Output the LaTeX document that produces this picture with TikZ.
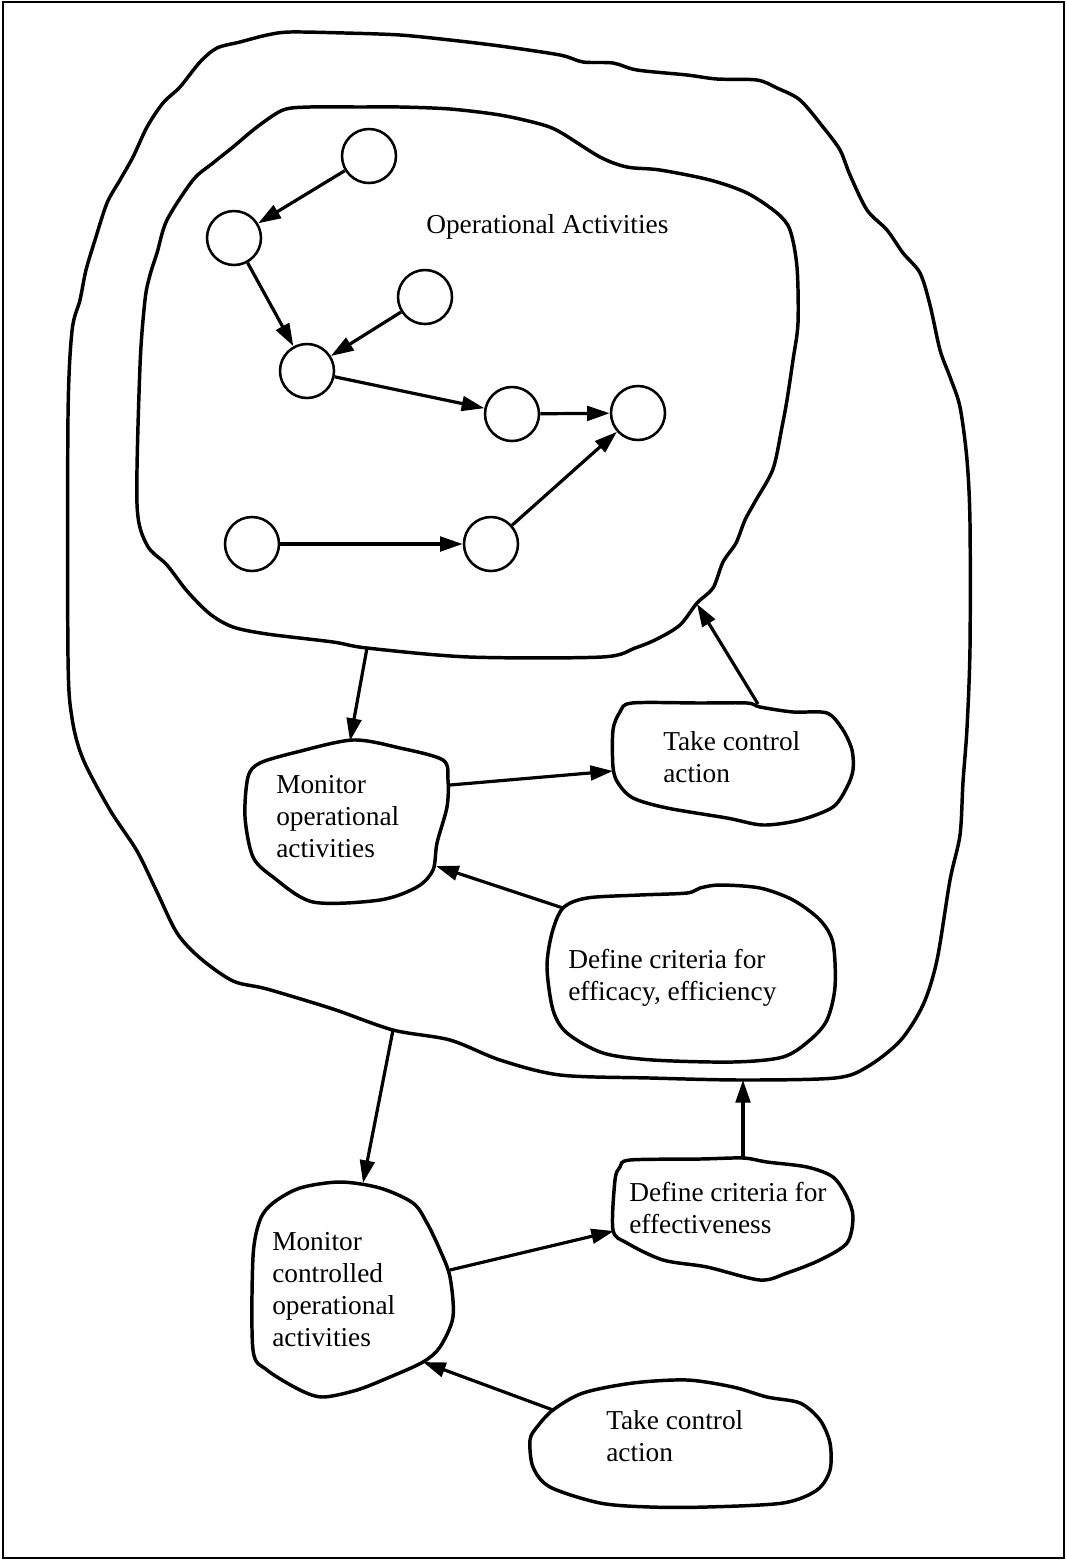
\documentclass[tikz,border=0pt]{standalone}
\usepackage{fontspec}
\setmainfont{Liberation Serif}
\usetikzlibrary{arrows.meta}
\begin{document}
\begin{tikzpicture}[x=0.75pt,y=-0.75pt,
  blob/.style={line width=2.6pt, line join=round},
  act/.style={circle, draw, line width=1.9pt, minimum size=40.5pt, inner sep=0pt},
  flow/.style={line width=2.4pt, -{Triangle[length=17pt,width=11pt]}},
  lbl/.style={font=\fontsize{20.5}{24}\selectfont, align=left, inner sep=0pt, anchor=base west}]

\useasboundingbox (0,0) rectangle (1067,1561);
\draw[line width=2.2pt] (3,2) rectangle (1064,1558);

% outer region
\draw[blob] plot[smooth cycle, tension=0.5] coordinates {
  (290,32) (345,33) (400,35) (450,40) (500,46) (560,55) (583,62) (613,63)
  (637,70) (687,75) (717,79) (757,80) (777,88) (800,100) (823,127) (840,150)
  (850,175) (867,210) (887,230) (903,253) (920,273) (930,305) (940,350)
  (950,377) (960,407) (967,460) (970,523) (970,648) (967,728) (963,782)
  (960,835) (950,880) (937,960) (923,1005) (900,1041) (867,1067) (835,1078)
  (743,1080) (650,1078) (560,1075) (500,1060) (450,1040) (393,1030)
  (333,1009) (267,989) (233,981) (200,958) (177,933) (157,892) (137,851)
  (110,810) (83,759) (72,718) (68,657) (68,417) (72,331) (80,300) (86,270)
  (95,240) (107,203) (120,180) (133,157) (147,127) (163,103) (180,87)
  (200,62) (217,48) (240,42) (267,35)};

% operational activities region
\draw[blob] plot[smooth cycle, tension=0.5] coordinates {
  (310,107) (360,107) (400,107) (450,109) (500,115) (540,124) (560,132)
  (600,157) (627,167) (660,170) (710,180) (747,193) (777,213) (790,230)
  (797,267) (798,323) (793,360) (787,400) (782,427) (773,469) (756,500)
  (745,520) (736,543) (723,562) (713,588) (697,603) (680,625) (657,639)
  (635,648) (602,657) (469,657) (367,648) (333,642) (267,634) (233,627)
  (210,614) (187,591) (167,565) (147,545) (137,504) (140,366) (145,300)
  (150,275) (157,253) (167,220) (193,180) (213,163) (233,147) (257,127)
  (283,110)};

% monitor operational activities
\draw[blob] plot[smooth cycle, tension=0.5] coordinates {
  (353,740) (400,748) (443,760) (448,780) (447,807) (437,843) (433,870)
  (417,887) (380,900) (313,902) (273,877) (253,857) (245,817) (248,777)
  (260,763) (297,752)};

% take control action (inner loop)
\draw[blob] plot[smooth cycle, tension=0.5] coordinates {
  (632,703) (700,703) (747,703) (760,707) (793,712) (827,713) (843,730)
  (852,750) (853,770) (847,787) (833,807) (800,820) (763,825) (727,818)
  (667,808) (633,798) (618,783) (613,767) (613,730) (620,712)};

% define criteria for efficacy, efficiency
\draw[blob] plot[smooth cycle, tension=0.5] coordinates {
  (563,908) (587,898) (640,895) (687,893) (700,888) (720,885) (760,888)
  (793,900) (820,920) (833,943) (835,987) (827,1020) (810,1040) (783,1057)
  (733,1062) (653,1060) (603,1053) (567,1033) (553,1010) (547,967)
  (552,933)};

% define criteria for effectiveness
\draw[blob] plot[smooth cycle, tension=0.5] coordinates {
  (630,1160) (700,1159) (743,1158) (767,1162) (807,1167) (833,1177)
  (847,1197) (853,1217) (847,1243) (820,1260) (787,1273) (760,1280)
  (707,1267) (663,1260) (627,1243) (613,1230) (615,1180) (620,1167)};

% monitor controlled operational activities
\draw[blob] plot[smooth cycle, tension=0.5] coordinates {
  (340,1182) (380,1188) (413,1203) (427,1223) (440,1250) (450,1277)
  (453,1317) (440,1347) (423,1362) (390,1377) (357,1390) (323,1397)
  (300,1390) (267,1370) (253,1350) (253,1257) (260,1220) (273,1203)
  (300,1188)};

% take control action (outer loop)
\draw[blob] plot[smooth cycle, tension=0.5] coordinates {
  (553,1410) (583,1393) (633,1383) (687,1380) (733,1387) (767,1397)
  (800,1403) (820,1420) (830,1443) (830,1470) (817,1490) (783,1503)
  (707,1507) (650,1507) (600,1503) (550,1487) (533,1467) (530,1440)
  (537,1427)};

% labels (anchored at the baseline of their last line)
\node[lbl] (opact) at (426,233) {Operational Activities};
\node[lbl] (moa) at (276,857) {Monitor\\operational\\activities};
\node[lbl] (tca1) at (663,782) {Take control\\action};
\node[lbl] (dce) at (568,1000) {Define criteria for\\efficacy, efficiency};
\node[lbl] (dcf) at (629,1233) {Define criteria for\\effectiveness};
\node[lbl] (mcoa) at (272,1346) {Monitor\\controlled\\operational\\activities};
\node[lbl] (tca2) at (606,1461) {Take control\\action};

% activities
\node[act] (c1) at (369,156) {};
\node[act] (c2) at (234,238) {};
\node[act] (c3) at (425,297) {};
\node[act] (c4) at (307,371) {};
\node[act] (c5) at (512,414) {};
\node[act] (c6) at (638,413) {};
\node[act] (c7) at (252,544) {};
\node[act] (c8) at (491,544) {};

\draw[flow] (c1) -- (c2);
\draw[flow] (c2) -- (c4);
\draw[flow] (c3) -- (c4);
\draw[flow] (c4) -- (c5);
\draw[flow] (c5) -- (c6);
\draw[flow] (c7) -- (c8);
\draw[flow] (c8) -- (c6);

% attachment points on the region outlines
\coordinate (inS) at (367,648);
\coordinate (inSE) at (697,604);
\coordinate (moaN) at (350,741);
\coordinate (moaE) at (450,785);
\coordinate (moaSE) at (436,866);
\coordinate (tcaW) at (613,771);
\coordinate (tcaN) at (758,704);
\coordinate (dceNW) at (563,908);
\coordinate (outS) at (393,1030);
\coordinate (outSE) at (743,1080);
\coordinate (mcoaN) at (363,1183);
\coordinate (mcoaE) at (450,1270);
\coordinate (mcoaSE) at (423,1362);
\coordinate (dcfW) at (614,1231);
\coordinate (dcfN) at (743,1158);
\coordinate (tcbNW) at (553,1410);

\draw[flow] (inS) -- (moaN);
\draw[flow] (moaE) -- (tcaW);
\draw[flow] (tcaN) -- (inSE);
\draw[flow] (dceNW) -- (moaSE);
\draw[flow] (outS) -- (mcoaN);
\draw[flow] (mcoaE) -- (dcfW);
\draw[flow] (dcfN) -- (outSE);
\draw[flow] (tcbNW) -- (mcoaSE);

\end{tikzpicture}
\end{document}
